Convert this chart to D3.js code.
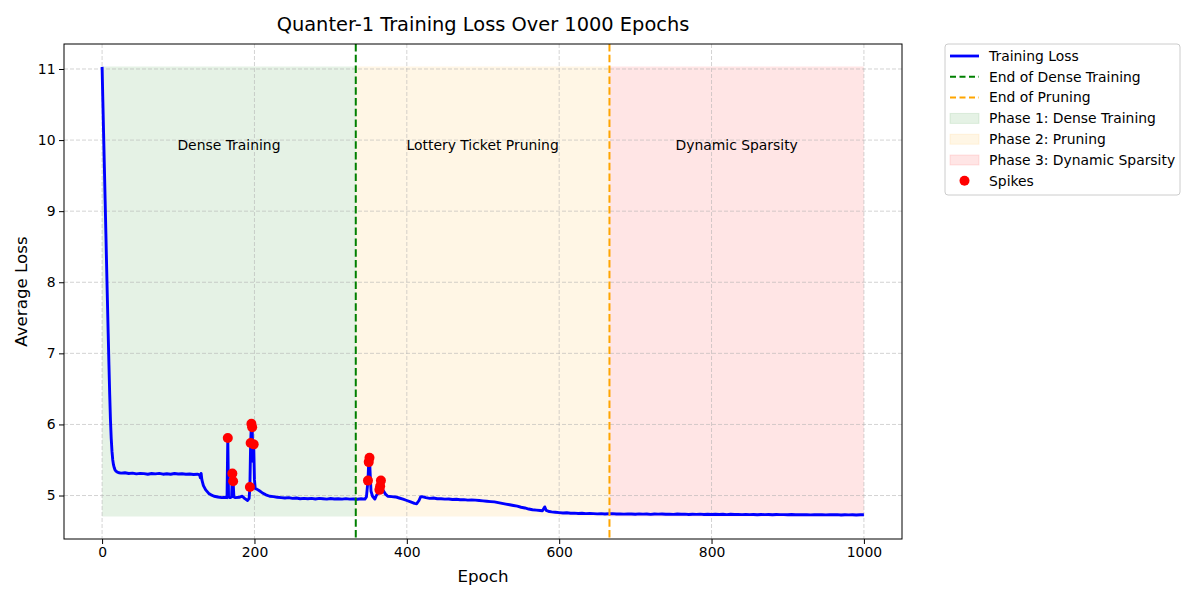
<!DOCTYPE html>
<html>
<head>
<meta charset="utf-8">
<script src="https://cdn.jsdelivr.net/npm/d3@7"></script>
<style>
  body { margin: 0; background: #fff; }
  svg { font-family: 'DejaVu Sans', sans-serif; }
</style>
</head>
<body>
<script>

// training loss (epoch -> average loss)
const epochs = [
  0, 1, 2, 3, 4, 5, 6, 7, 8, 9, 10, 11, 12, 13, 14, 15, 16, 17, 18, 20, 22, 25,
  30, 35, 40, 45, 50, 55, 60, 65, 70, 75, 80, 85, 90, 95, 100, 105, 110, 115, 120, 125,
  128, 129, 130, 131, 133, 136, 140, 143, 147, 152, 157, 162, 164,
  165, 166, 168, 170, 171, 172, 173, 175, 180, 184, 187, 191, 193,
  194, 195, 196, 197, 198, 199, 200, 201, 203, 206, 210, 215, 220, 225, 230, 235, 240, 245, 250,
  255, 260, 265, 270, 275, 280, 285, 290, 295, 300, 305, 310, 315, 320, 325, 330, 335, 340, 345,
  347, 349, 350, 351, 352, 353, 355, 358, 360, 362, 363, 364, 365, 366, 367, 369, 372, 375,
  380, 385, 390, 395, 400, 405, 410, 413, 416, 418, 420, 425, 430,
  435, 440, 445, 450, 455, 460, 465, 470, 475, 480, 485, 490, 495, 500, 505, 510, 515, 520, 525, 530, 535, 540, 545, 550, 555, 560, 565, 570, 575,
  578, 580, 581, 583, 587, 590,
  595, 600, 605, 610, 615, 620, 625, 630, 635, 640,
  645, 650, 655, 660, 665, 670, 675, 680, 685, 690,
  695, 700, 705, 710, 715, 720, 725, 730, 735, 740,
  745, 750, 755, 760, 765, 770, 775, 780, 785, 790,
  795, 800, 805, 810, 815, 820, 825, 830, 835, 840,
  845, 850, 855, 860, 865, 870, 875, 880, 885, 890,
  895, 900, 905, 910, 915, 920, 925, 930, 935, 940,
  945, 950, 955, 960, 965, 970, 975, 980, 985, 990,
  995, 1000
]

const loss = [
  11.03, 10.55, 10.08, 9.62, 9.15, 8.68, 8.20, 7.74, 7.28, 6.84, 6.42, 6.06, 5.80, 5.62, 5.50, 5.43, 5.39, 5.36, 5.345, 5.33, 5.32, 5.315,
  5.32, 5.31, 5.315, 5.305, 5.312, 5.308, 5.30, 5.31, 5.305, 5.312, 5.30, 5.306, 5.30, 5.31, 5.302, 5.306, 5.30, 5.303, 5.296, 5.30,
  5.29, 5.25, 5.31, 5.22, 5.14, 5.08, 5.03, 5.01, 4.99, 4.98, 4.97, 4.975, 4.97,
  5.81, 4.98, 4.97, 4.98, 5.31, 5.20, 4.98, 4.97, 4.975, 4.99, 4.96, 4.93, 4.96,
  5.12, 5.74, 6.01, 5.96, 5.48, 5.72, 5.22, 5.10, 5.09, 5.07, 5.04, 5.01, 4.99, 4.985, 4.975, 4.97, 4.965, 4.97, 4.96,
  4.965, 4.955, 4.96, 4.955, 4.96, 4.952, 4.96, 4.955, 4.95, 4.958, 4.952, 4.955, 4.95, 4.956, 4.95, 4.952, 4.948, 4.955, 4.95,
  4.98, 5.21, 5.47, 5.53, 5.28, 5.06, 4.99, 4.95, 5.00, 5.03, 5.05, 5.08, 5.13, 5.21, 5.14, 5.07, 5.02, 4.99,
  4.985, 4.98, 4.965, 4.95, 4.93, 4.91, 4.89, 4.885, 4.93, 4.98, 4.985, 4.97, 4.96,
  4.965, 4.955, 4.955, 4.95, 4.952, 4.945, 4.947, 4.94, 4.942, 4.935, 4.937, 4.935, 4.93, 4.925, 4.92, 4.915, 4.91, 4.90, 4.89, 4.88, 4.87, 4.86, 4.85, 4.835, 4.825, 4.81, 4.80, 4.795, 4.79,
  4.785, 4.82, 4.84, 4.79, 4.775, 4.77,
  4.765, 4.76, 4.755, 4.757, 4.75, 4.752, 4.748, 4.75, 4.745, 4.747,
  4.745, 4.742, 4.745, 4.74, 4.743, 4.745, 4.74, 4.742, 4.738, 4.742,
  4.74, 4.737, 4.742, 4.738, 4.74, 4.735, 4.74, 4.738, 4.741, 4.736,
  4.738, 4.735, 4.74, 4.736, 4.738, 4.734, 4.737, 4.735, 4.739, 4.734,
  4.736, 4.733, 4.737, 4.734, 4.736, 4.732, 4.736, 4.733, 4.735, 4.731,
  4.735, 4.732, 4.734, 4.73, 4.734, 4.731, 4.733, 4.729, 4.733, 4.731,
  4.732, 4.73, 4.733, 4.729, 4.732, 4.73, 4.731, 4.728, 4.732, 4.729,
  4.731, 4.728, 4.73, 4.729, 4.731, 4.727, 4.73, 4.728, 4.73, 4.727,
  4.729, 4.73
]

const spikeEpochs = [165, 171, 172, 194, 195, 196, 197, 199, 349, 350, 351, 364, 365, 366]
const spikeLoss = [5.81, 5.31, 5.20, 5.12, 5.74, 6.01, 5.96, 5.72, 5.21, 5.47, 5.53, 5.08, 5.13, 5.21]

const phaseBounds = [0, 333, 666, 1000]
const phaseLabels = ['Dense Training', 'Lottery Ticket Pruning', 'Dynamic Sparsity']
const phaseColors = ['green', 'orange', 'red']
const phaseLegend = ['Phase 1: Dense Training', 'Phase 2: Pruning', 'Phase 3: Dynamic Sparsity']
const phaseFill = [4.705, 11.035]
const labelLoss = 9.93

const cutEpochs = [333, 666]
const cutColors = ['green', 'orange']
const cutLegend = ['End of Dense Training', 'End of Pruning']

const xTicks = [0, 200, 400, 600, 800, 1000]
const yTicks = [5, 6, 7, 8, 9, 10, 11]

const WIDTH = 1200
const HEIGHT = 600
const plot = { left: 64, top: 44, right: 902, bottom: 539 }
const FONT = 13.9

const svg = d3.select('body')
  .append('svg')
  .attr('width', WIDTH)
  .attr('height', HEIGHT)

const pad = (phaseFill[1] - phaseFill[0]) * 0.05

const xScale = d3.scaleLinear()
  .domain([-50, 1050])
  .range([plot.left, plot.right])

const yScale = d3.scaleLinear()
  .domain([phaseFill[0] - pad, phaseFill[1] + pad])
  .range([plot.bottom, plot.top])

svg.append('defs')
  .append('clipPath')
  .attr('id', 'clip')
  .append('rect')
  .attr('x', plot.left)
  .attr('y', plot.top)
  .attr('width', plot.right - plot.left)
  .attr('height', plot.bottom - plot.top)

// phase bands
svg.append('g')
  .selectAll('rect')
  .data(phaseLabels)
  .enter()
  .append('rect')
  .attr('x', (d, i) => xScale(phaseBounds[i]))
  .attr('width', (d, i) => xScale(phaseBounds[i + 1]) - xScale(phaseBounds[i]))
  .attr('y', yScale(phaseFill[1]))
  .attr('height', yScale(phaseFill[0]) - yScale(phaseFill[1]))
  .attr('fill', (d, i) => phaseColors[i])
  .attr('fill-opacity', 0.1)

// grid
const grid = svg.append('g')
  .attr('stroke', '#b0b0b0')
  .attr('stroke-opacity', 0.7)
  .attr('stroke-width', 0.8)
  .attr('stroke-dasharray', '4,2')

grid.selectAll('.gx')
  .data(xTicks)
  .enter()
  .append('line')
  .attr('x1', d => xScale(d))
  .attr('x2', d => xScale(d))
  .attr('y1', plot.top)
  .attr('y2', plot.bottom)

grid.selectAll('.gy')
  .data(yTicks)
  .enter()
  .append('line')
  .attr('x1', plot.left)
  .attr('x2', plot.right)
  .attr('y1', d => yScale(d))
  .attr('y2', d => yScale(d))

// phase labels
svg.append('g')
  .selectAll('text')
  .data(phaseLabels)
  .enter()
  .append('text')
  .attr('x', (d, i) => xScale((phaseBounds[i] + phaseBounds[i + 1]) / 2))
  .attr('y', yScale(labelLoss))
  .attr('dy', '0.35em')
  .attr('text-anchor', 'middle')
  .attr('font-size', FONT)
  .text(d => d)

const line = d3.line()
  .x((d, i) => xScale(epochs[i]))
  .y(d => yScale(d))

svg.append('path')
  .datum(loss)
  .attr('clip-path', 'url(#clip)')
  .attr('fill', 'none')
  .attr('stroke', 'blue')
  .attr('stroke-width', 2.9)
  .attr('stroke-linejoin', 'round')
  .attr('d', line)

svg.append('g')
  .selectAll('line')
  .data(cutEpochs)
  .enter()
  .append('line')
  .attr('x1', d => xScale(d))
  .attr('x2', d => xScale(d))
  .attr('y1', plot.top)
  .attr('y2', plot.bottom)
  .attr('stroke', (d, i) => cutColors[i])
  .attr('stroke-width', 2)
  .attr('stroke-dasharray', '7.5,3.3')

svg.append('g')
  .selectAll('circle')
  .data(spikeLoss)
  .enter()
  .append('circle')
  .attr('cx', (d, i) => xScale(spikeEpochs[i]))
  .attr('cy', d => yScale(d))
  .attr('r', 5)
  .attr('fill', 'red')

// axes
const xAxis = d3.axisBottom(xScale).tickValues(xTicks).tickFormat(d3.format('d')).tickSize(5).tickPadding(3.5)
const yAxis = d3.axisLeft(yScale).tickValues(yTicks).tickFormat(d3.format('d')).tickSize(5).tickPadding(3.5)

svg.append('g')
  .attr('transform', 'translate(0,' + plot.bottom + ')')
  .call(xAxis)
  .call(g => g.select('.domain').remove())
  .selectAll('text')
  .attr('font-size', FONT)
  .attr('font-family', 'DejaVu Sans')
  .attr('fill', 'black')

svg.append('g')
  .attr('transform', 'translate(' + plot.left + ',0)')
  .call(yAxis)
  .call(g => g.select('.domain').remove())
  .selectAll('text')
  .attr('font-size', FONT)
  .attr('font-family', 'DejaVu Sans')
  .attr('fill', 'black')

svg.append('rect')
  .attr('x', plot.left)
  .attr('y', plot.top)
  .attr('width', plot.right - plot.left)
  .attr('height', plot.bottom - plot.top)
  .attr('fill', 'none')
  .attr('stroke', 'black')
  .attr('stroke-width', 1)

svg.append('text')
  .attr('x', (plot.left + plot.right) / 2)
  .attr('y', 31)
  .attr('text-anchor', 'middle')
  .attr('font-size', 19.4)
  .text('Quanter-1 Training Loss Over 1000 Epochs')

svg.append('text')
  .attr('x', (plot.left + plot.right) / 2)
  .attr('y', 582)
  .attr('text-anchor', 'middle')
  .attr('font-size', 16.7)
  .text('Epoch')

svg.append('text')
  .attr('transform', 'translate(27,' + (plot.top + plot.bottom) / 2 + ') rotate(-90)')
  .attr('text-anchor', 'middle')
  .attr('font-size', 16.7)
  .text('Average Loss')

// legend
const legend = svg.append('g')
  .attr('transform', 'translate(945,44)')

legend.append('rect')
  .attr('width', 235)
  .attr('height', 151)
  .attr('rx', 3)
  .attr('fill', 'white')
  .attr('fill-opacity', 0.8)
  .attr('stroke', '#cccccc')

const rowY = i => 12 + i * 20.8

legend.append('line')
  .attr('x1', 5).attr('x2', 34)
  .attr('y1', rowY(0)).attr('y2', rowY(0))
  .attr('stroke', 'blue')
  .attr('stroke-width', 2.8)

legend.selectAll('.cut')
  .data(cutColors)
  .enter()
  .append('line')
  .attr('x1', 5).attr('x2', 34)
  .attr('y1', (d, i) => rowY(i + 1))
  .attr('y2', (d, i) => rowY(i + 1))
  .attr('stroke', d => d)
  .attr('stroke-width', 2)
  .attr('stroke-dasharray', '6,3.5')

legend.selectAll('.band')
  .data(phaseColors)
  .enter()
  .append('rect')
  .attr('x', 5)
  .attr('y', (d, i) => rowY(i + 3) - 5)
  .attr('width', 29)
  .attr('height', 10)
  .attr('fill', d => d)
  .attr('fill-opacity', 0.1)
  .attr('stroke', d => d)
  .attr('stroke-opacity', 0.1)

legend.append('circle')
  .attr('cx', 19.5)
  .attr('cy', rowY(6))
  .attr('r', 5)
  .attr('fill', 'red')

legend.selectAll('text')
  .data(['Training Loss'].concat(cutLegend, phaseLegend, ['Spikes']))
  .enter()
  .append('text')
  .attr('x', 44)
  .attr('y', (d, i) => rowY(i))
  .attr('dy', '0.35em')
  .attr('font-size', FONT)
  .text(d => d)

</script>
</body>
</html>
